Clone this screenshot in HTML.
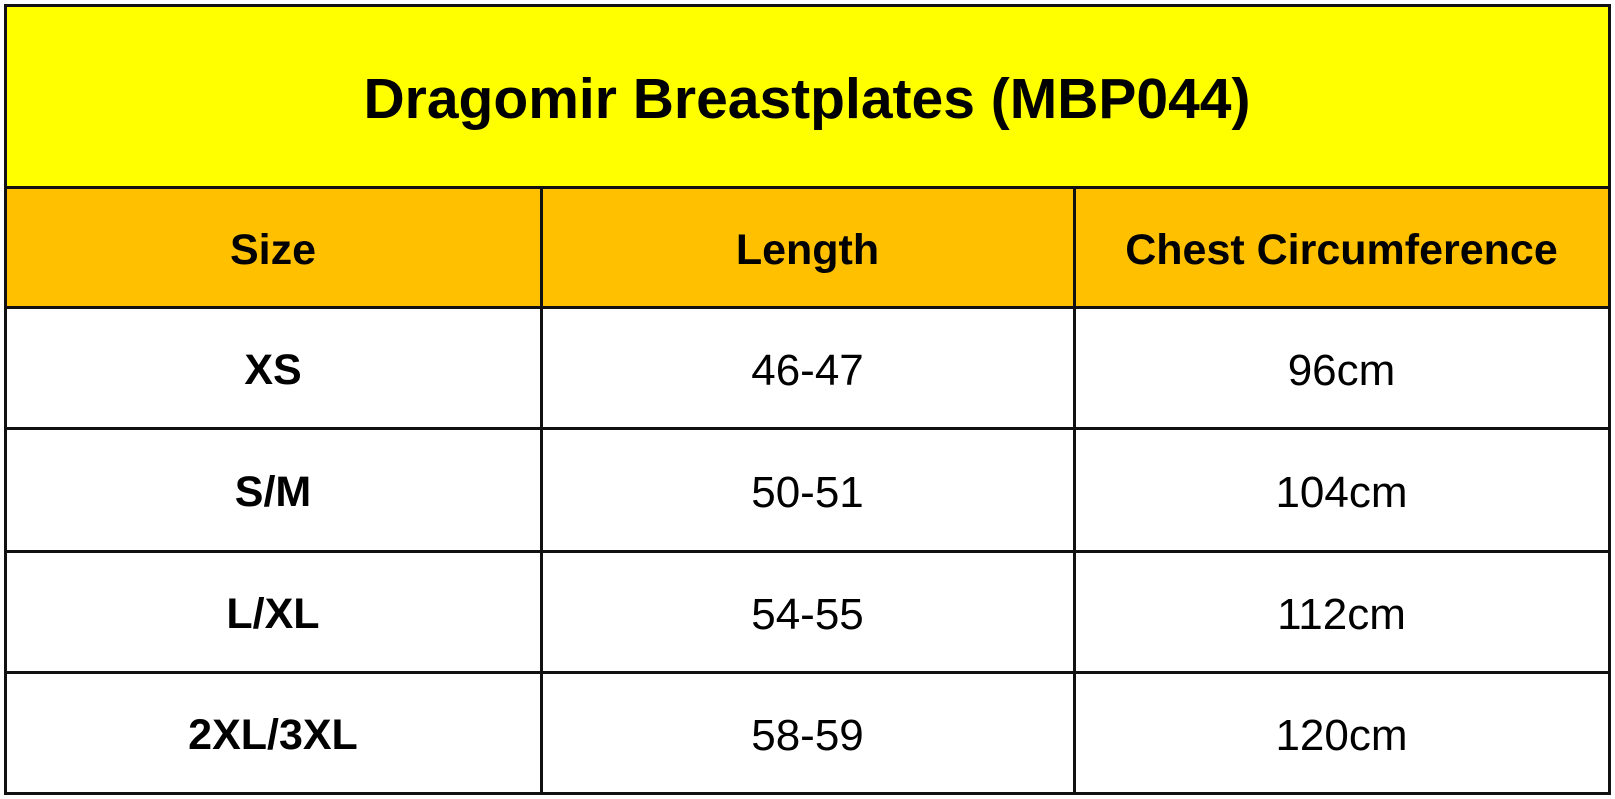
<!DOCTYPE html>
<html><head><style>
html,body{margin:0;padding:0;background:#fff;width:1615px;height:799px;overflow:hidden}
.t{position:absolute;left:0;top:0;width:1615px;height:799px;font-family:"Liberation Sans",Arial,sans-serif}
.box{position:absolute;display:flex;align-items:center;justify-content:center;box-sizing:border-box;padding-top:6px}
.line{position:absolute;background:#111}
.b{font-weight:bold;font-size:43px}
.r{font-size:44px}
</style></head><body><div class="t">
<div class="box" style="left:5px;top:5px;width:1604px;height:182px;background:#ffff00;font-weight:bold;font-size:57px">Dragomir Breastplates (MBP044)</div>
<div class="box" style="left:5px;top:187px;width:1604px;height:120px;background:#ffc000"></div>
<div class="box b" style="left:5px;top:187px;width:536px;height:120px">Size</div>
<div class="box b" style="left:541px;top:187px;width:533px;height:120px">Length</div>
<div class="box b" style="left:1074px;top:187px;width:535px;height:120px">Chest Circumference</div>

<div class="box b" style="left:5px;top:307px;width:536px;height:121px">XS</div>
<div class="box r" style="left:541px;top:307px;width:533px;height:121px">46-47</div>
<div class="box r" style="left:1074px;top:307px;width:535px;height:121px">96cm</div>

<div class="box b" style="left:5px;top:428px;width:536px;height:123px">S/M</div>
<div class="box r" style="left:541px;top:428px;width:533px;height:123px">50-51</div>
<div class="box r" style="left:1074px;top:428px;width:535px;height:123px">104cm</div>

<div class="box b" style="left:5px;top:551px;width:536px;height:121px">L/XL</div>
<div class="box r" style="left:541px;top:551px;width:533px;height:121px">54-55</div>
<div class="box r" style="left:1074px;top:551px;width:535px;height:121px">112cm</div>

<div class="box b" style="left:5px;top:672px;width:536px;height:121px">2XL/3XL</div>
<div class="box r" style="left:541px;top:672px;width:533px;height:121px">58-59</div>
<div class="box r" style="left:1074px;top:672px;width:535px;height:121px">120cm</div>

<div class="line" style="left:4px;top:4px;width:1607px;height:3px"></div>
<div class="line" style="left:4px;top:186px;width:1607px;height:3px"></div>
<div class="line" style="left:4px;top:306px;width:1607px;height:3px"></div>
<div class="line" style="left:4px;top:427px;width:1607px;height:3px"></div>
<div class="line" style="left:4px;top:550px;width:1607px;height:3px"></div>
<div class="line" style="left:4px;top:671px;width:1607px;height:3px"></div>
<div class="line" style="left:4px;top:792px;width:1607px;height:3px"></div>
<div class="line" style="left:4px;top:4px;width:3px;height:791px"></div>
<div class="line" style="left:1608px;top:4px;width:3px;height:791px"></div>
<div class="line" style="left:540px;top:187px;width:3px;height:608px"></div>
<div class="line" style="left:1073px;top:187px;width:3px;height:608px"></div>
</div></body></html>
